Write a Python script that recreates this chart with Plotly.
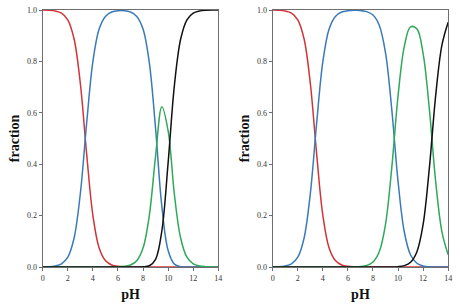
import plotly.graph_objects as go

pH = [0, 0.5, 1, 1.5, 2, 2.5, 3, 3.5, 4, 4.5, 5, 5.5, 6, 6.5, 7, 7.5, 8, 8.5, 9, 9.5,
      10, 10.5, 11, 11.5, 12, 12.5, 13, 13.5, 14]

# left panel
left_red = [1.0, 0.999, 0.996, 0.988, 0.962, 0.888, 0.715, 0.443, 0.201, 0.074, 0.025, 0.008,
            0.0025, 0.0008, 0.0003, 0.0, 0.0, 0.0, 0.0, 0.0, 0.0, 0.0, 0.0, 0.0, 0.0, 0.0, 0.0, 0.0, 0.0]
left_blue = [0.0004, 0.001, 0.004, 0.012, 0.038, 0.112, 0.285, 0.557, 0.799, 0.926, 0.975, 0.992,
             0.997, 0.997, 0.992, 0.975, 0.926, 0.795, 0.538, 0.235, 0.064, 0.011, 0.0014, 0.0002,
             0.0, 0.0, 0.0, 0.0, 0.0]
left_green = [0.0, 0.0, 0.0, 0.0, 0.0, 0.0, 0.0, 0.0, 0.0, 0.0, 0.0, 0.0002, 0.0008, 0.0025,
              0.008, 0.0245, 0.0735, 0.200, 0.432, 0.624, 0.53, 0.282, 0.112, 0.038, 0.012,
              0.004, 0.0013, 0.0004, 0.0001]
left_black = [0.0] * 16 + [0.0006, 0.005, 0.030, 0.141, 0.406, 0.707, 0.887, 0.962, 0.988,
                           0.996, 0.999, 1.0, 1.0]

# right panel
right_red = left_red
right_blue = [0.0004, 0.001, 0.004, 0.012, 0.038, 0.112, 0.285, 0.557, 0.799, 0.926, 0.975, 0.992,
              0.997, 0.9986, 0.9978, 0.9937, 0.9804, 0.9407, 0.8336, 0.613, 0.3334, 0.1361, 0.0468,
              0.0147, 0.0042, 0.001, 0.0002, 0.0, 0.0]
right_green = [0.0, 0.0, 0.0, 0.0, 0.0, 0.0, 0.0, 0.0, 0.0, 0.0, 0.0, 0.0, 0.0002, 0.0006, 0.002,
               0.0063, 0.0196, 0.0594, 0.1663, 0.3868, 0.6653, 0.8585, 0.9345, 0.9268, 0.830,
               0.6125, 0.3338, 0.137, 0.048]
right_black = [0.0] * 19 + [0.0002, 0.0013, 0.0054, 0.0186, 0.0585, 0.1656, 0.3865, 0.666,
                            0.863, 0.952]

x_ticks = [0, 2, 4, 6, 8, 10, 12, 14]
y_ticks = [0.0, 0.2, 0.4, 0.6, 0.8, 1.0]

RED, BLUE, GREEN, BLACK = "#d13438", "#3a7ab8", "#2ea85a", "#111111"

fig = go.Figure()
panels = [
    ("x", "y", [left_red, left_blue, left_green, left_black]),
    ("x2", "y2", [right_red, right_blue, right_green, right_black]),
]
for xa, ya, series in panels:
    for vals, col in zip(series, [RED, BLUE, GREEN, BLACK]):
        fig.add_trace(go.Scatter(x=pH, y=vals, mode="lines", xaxis=xa, yaxis=ya,
                                 line=dict(color=col, width=1.5, shape="spline", smoothing=1.0),
                                 showlegend=False, hoverinfo="skip"))

serif = "Liberation Serif, DejaVu Serif, serif"
axis_common = dict(showline=True, linecolor="#6e6e6e", linewidth=1, mirror=True,
                   ticks="outside", ticklen=3, tickcolor="#6e6e6e", showgrid=False,
                   zeroline=False, ticklabeloverflow="allow",
                   tickfont=dict(family=serif, size=8, color="#333"))
xtitle = dict(text="<b>pH</b>", font=dict(family=serif, size=14, color="#111"), standoff=7)
ytitle = dict(text="<b>fraction</b>", font=dict(family=serif, size=14, color="#111"), standoff=4)

fig.update_layout(
    width=463, height=304,
    margin=dict(l=0, r=0, t=10, b=37, autoexpand=False),
    plot_bgcolor="white", paper_bgcolor="white",
    xaxis=dict(domain=[0.0922, 0.4715], range=[0, 14], tickvals=x_ticks, title=xtitle,
               anchor="y", **axis_common),
    yaxis=dict(domain=[0, 1], range=[0, 1], tickvals=y_ticks, tickformat=".1f", title=ytitle,
               anchor="x", **axis_common),
    xaxis2=dict(domain=[0.589, 0.968], range=[0, 14], tickvals=x_ticks, title=xtitle,
                anchor="y2", **axis_common),
    yaxis2=dict(domain=[0, 1], range=[0, 1], tickvals=y_ticks, tickformat=".1f", title=ytitle,
                anchor="x2", **axis_common),
)

fig.write_html("out.html", config={"displayModeBar": False},
               post_script="document.body.style.margin='0';")
